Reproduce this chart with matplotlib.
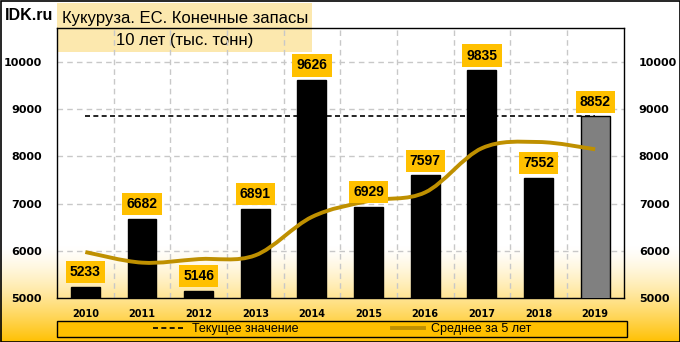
import numpy as np
import matplotlib
matplotlib.use("Agg")
import matplotlib.pyplot as plt
from matplotlib.path import Path
from matplotlib.patches import PathPatch, Rectangle
from matplotlib.lines import Line2D

years = ["2010", "2011", "2012", "2013", "2014", "2015", "2016", "2017", "2018", "2019"]
stocks = [5233, 6682, 5146, 6891, 9626, 6929, 7597, 9835, 7552, 8852]
avg5 = [5970, 5745, 5820, 5900, 6716, 7055, 7238, 8176, 8308, 8153]
current = 8852
yticks = [5000, 6000, 7000, 8000, 9000, 10000]

title1 = "Кукуруза. ЕС. Конечные запасы"
title2 = "10 лет (тыс. тонн)"
lbl_cur = "Текущее значение"
lbl_avg = "Среднее за 5 лет"

W, H = 680, 342
fig = plt.figure(figsize=(W / 100, H / 100), dpi=100)

# background gradient: white at top, gold at the bottom
bg = fig.add_axes([0, 0, 1, 1], zorder=-10)
rows = np.arange(H)
t = np.clip((rows - 245) / (H - 245), 0, 1) ** 1.4
gold = np.array([255, 192, 0]) / 255
img = np.ones((H, 1, 3)) * (1 - t[:, None, None]) + gold * t[:, None, None]
bg.imshow(img, aspect="auto", extent=[0, 1, 0, 1])
bg.set_axis_off()

# title box
fig.patches.append(Rectangle((57 / W, 1 - 52 / H), 255 / W, 49 / H, transform=fig.transFigure,
                             facecolor="#FCE8AE", edgecolor="none", zorder=-5))
fig.text(185 / W, 1 - 18 / H, title1, ha="center", va="center", fontsize=12,
         family="Liberation Sans", zorder=-4)
fig.text(185 / W, 1 - 41 / H, title2, ha="center", va="center", fontsize=12,
         family="Liberation Sans", zorder=-4)
fig.text(5 / W, 1 - 15 / H, "IDK.ru", ha="left", va="center", fontsize=11.5,
         fontweight="bold", family="Liberation Sans")

ax = fig.add_axes([57 / W, 1 - 297.7 / H, 566.5 / W, 269.7 / H])
ax.set_facecolor("none")
x = np.arange(len(years))

colors = ["black"] * (len(years) - 1) + ["#808080"]
ax.bar(x, stocks, width=0.51, color=colors, edgecolor="black", linewidth=1, zorder=3)

ax.plot([x[0], x[-1]], [current, current], color="black", lw=1.2, ls=(0, (3, 2)), zorder=4)

# smooth line through the 5-year average (Catmull-Rom as Bezier)
pts = np.column_stack([x, avg5]).astype(float)
verts = [tuple(pts[0])]
codes = [Path.MOVETO]
for i in range(len(pts) - 1):
    p0 = pts[max(i - 1, 0)]
    p1 = pts[i]
    p2 = pts[i + 1]
    p3 = pts[min(i + 2, len(pts) - 1)]
    c1 = p1 + (p2 - p0) / 6
    c2 = p2 - (p3 - p1) / 6
    verts += [tuple(c1), tuple(c2), tuple(p2)]
    codes += [Path.CURVE4] * 3
ax.add_patch(PathPatch(Path(verts, codes), facecolor="none", edgecolor="#BF9000",
                       lw=2.8, capstyle="butt", zorder=5))

for xi, v in zip(x, stocks):
    ax.annotate(f"{v}", (xi, v), xytext=(0, 10.5), textcoords="offset points",
                ha="center", va="center", fontsize=10, fontweight="bold",
                family="Liberation Sans", zorder=6,
                bbox=dict(boxstyle="square,pad=0.3", fc="#FFC000", ec="none"))

ax.set_xlim(-0.5, len(years) - 0.5)
ax.set_ylim(5000, 10730)
ax.set_yticks(yticks)
ax.set_xticks(x)
ax.set_xticklabels(years, fontsize=7, fontweight="bold")
ax.set_xticks(x[:-1] + 0.5, minor=True)
ax.tick_params(axis="x", which="both", length=0, pad=8)
ax.tick_params(axis="y", length=0, labelsize=8, pad=11, labelright=True)
for lab in ax.get_yticklabels():
    lab.set_fontweight("bold")
ax.grid(axis="y", color="#C8C8C8", lw=1, ls=(0, (4, 3)), zorder=1)
ax.grid(axis="x", which="minor", color="#C8C8C8", lw=1, ls=(0, (4, 3)), zorder=1)
for s in ax.spines.values():
    s.set_color("black")
    s.set_linewidth(1)

# legend
fig.patches.append(Rectangle((57 / W, 1 - 337 / H), 570 / W, 16.5 / H, transform=fig.transFigure,
                             facecolor="#FFC000", edgecolor="black", lw=1))
handles = [Line2D([], [], color="black", lw=1.2, ls=(0, (3, 2))),
           Line2D([], [], color="#BF9000", lw=2.8)]
fig.legend(handles, [lbl_cur, lbl_avg], loc="center", bbox_to_anchor=(342 / W, 1 - 329 / H),
           ncol=2, frameon=False, handlelength=2.6, columnspacing=7.5, handletextpad=0.5,
           prop=dict(family="Liberation Sans", size=9))

# outer border
fig.patches.append(Rectangle((0.5 / W, 0.5 / H), (W - 1) / W, (H - 1) / H, transform=fig.transFigure,
                             facecolor="none", edgecolor="black", lw=1.2))

fig.savefig("out.png", dpi=100)
